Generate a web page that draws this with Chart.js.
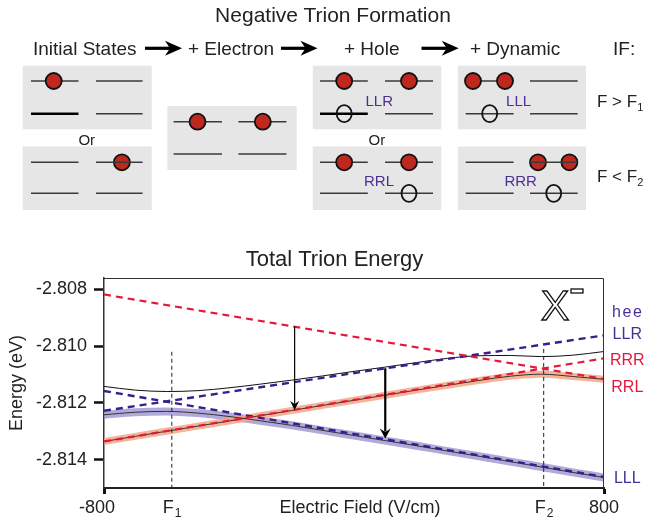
<!DOCTYPE html>
<html><head><meta charset="utf-8">
<script src="https://cdn.jsdelivr.net/npm/chart.js@4.4.1/dist/chart.umd.min.js"></script>
<style>
html,body{margin:0;padding:0;background:#fff;}
#wrap{position:relative;width:648px;height:522px;overflow:hidden;background:#fff;}
#c{position:absolute;left:0;top:0;}
#top{position:absolute;left:0;top:0;}
</style></head><body>
<div id="wrap">
<canvas id="c" width="648" height="522"></canvas>
<svg id="top" width="648" height="225" xmlns="http://www.w3.org/2000/svg" font-family="'Liberation Sans', Arial, sans-serif"></svg>
</div>
<script>
// ---------- data ----------
const fieldSamples = [-800,-700,-600,-500,-400,-300,-200,-100,0,100,200,300,400,500,600,700,800];
const adiabaticLow = [-2.81242,-2.81233,-2.81230,-2.81236,-2.81248,-2.81263,-2.81279,-2.81297,-2.81315,-2.81333,-2.81351,-2.81370,-2.81388,-2.81407,-2.81426,-2.81445,-2.81463];
const adiabaticUpper = [-2.81142,-2.81155,-2.81160,-2.81157,-2.81147,-2.81134,-2.81120,-2.81105,-2.81089,-2.81074,-2.81058,-2.81043,-2.81034,-2.81033,-2.81037,-2.81032,-2.81019];
const adiabaticMid = [-2.81336,-2.81318,-2.81300,-2.81282,-2.81264,-2.81245,-2.81227,-2.81209,-2.81191,-2.81173,-2.81155,-2.81138,-2.81121,-2.81106,-2.81099,-2.81107,-2.81117];
const diabaticField = [-800, 800];
const energyLLR = [-2.81228, -2.80962];
const energyLLL = [-2.81158, -2.81461];
const energyRRR = [-2.81336, -2.81043];
const energyRRL = [-2.80818, -2.81116];
const fieldF1 = -583, fieldF2 = 607;
const markerTopF1 = -2.8102, markerTopF2 = -2.8101;
const arrowField = [-190, 100];
const arrowFrom = [-2.80931, -2.81078];
const arrowTo = [-2.81225, -2.81326];
const yTicks = [-2.814, -2.812, -2.810, -2.808];
const xTicks = [-800, 800];
const rightLabels = ['hee','LLR','RRR','RRL','LLL'];

// ---------- schematic (top) ----------
const NS='http://www.w3.org/2000/svg';
const svg=document.getElementById('top');
function el(tag, attrs, text){ const e=document.createElementNS(NS,tag); for(const k in attrs) e.setAttribute(k, attrs[k]); if(text!=null) e.textContent=text; svg.appendChild(e); return e;}
function box(x,y,w,h){ el('rect',{x:x,y:y,width:w,height:h,fill:'#e6e6e6'}); }
function lvl(x1,x2,y,thick){ el('line',{x1:x1,x2:x2,y1:y,y2:y,stroke: thick?'#000':'#3a3a3a','stroke-width': thick?2.6:1.5}); }
function dot(cx,cy){ el('circle',{cx:cx,cy:cy,r:8,fill:'#bf281e',stroke:'#111','stroke-width':1.8}); }
function hole(cx,cy){ el('ellipse',{cx:cx,cy:cy,rx:7.5,ry:8.5,fill:'none',stroke:'#111','stroke-width':1.8}); }
function arrow(x0,x1,yc){ el('rect',{x:x0,y:yc-1.6,width:x1-x0-10,height:3.2,fill:'#000'}); el('polygon',{points:`${x1},${yc} ${x1-17},${yc-7.5} ${x1-12},${yc} ${x1-17},${yc+7.5}`,fill:'#000'}); }
function txt(x,y,s,size,anchor,fill){ return el('text',{x:x,y:y,'font-size':size,'text-anchor':anchor||'start',fill:fill||'#222'},s); }

txt(333,22,'Negative Trion Formation',21,'middle');
txt(33,55,'Initial States',19); arrow(145,182,48.3);
txt(188,55,'+ Electron',19); arrow(281,317.5,48.3);
txt(344,55,'+ Hole',19); arrow(421.5,458.7,48.3);
txt(470,55,'+ Dynamic',19);
txt(613,55,'IF:',19);

const yT1=81, yB1=113.7, yT2=162.3, yB2=193.3;
// initial states
box(22.7,65.7,129,63.6); lvl(31,78.5,yT1); lvl(96,142.6,yT1); lvl(31,78.5,yB1,true); lvl(96,142.6,yB1); dot(53.7,yT1);
box(22.7,146.5,129,63.5); dot(121.9,yT2); lvl(31,78.5,yT2); lvl(96,142.6,yT2); lvl(31,78.5,yB2); lvl(96,142.6,yB2);
txt(86.8,145,'Or',15,'middle');
// + electron
box(167.4,106,129.3,64); lvl(173.6,222,121.7); lvl(238.4,286.4,121.7); dot(197.5,121.7); dot(262.8,121.7); lvl(173.6,222,154); lvl(238.4,286.4,154);
// + hole
box(312.8,65.7,128.5,63.6); lvl(320,367.8,yT1); lvl(385,433,yT1); dot(344.2,yT1); dot(409,yT1); lvl(320,367.8,yB1,true); lvl(385,433,yB1); hole(344.2,yB1);
txt(379.3,105.5,'LLR',15,'middle','#4b2f93');
box(312.8,146.5,128.5,63.5); lvl(320,367.8,yT2); lvl(385,433,yT2); dot(344.2,yT2); dot(409,yT2); lvl(320,367.8,yB2); lvl(385,433,yB2); hole(409,yB2);
txt(379,185.5,'RRL',15,'middle','#4b2f93');
txt(376.9,145,'Or',15,'middle');
// + dynamic
box(457.9,65.7,128.1,63.6); lvl(465.7,513.6,yT1); lvl(530,577.7,yT1); dot(473,yT1); dot(505,yT1); lvl(465.7,513.6,yB1); lvl(530,577.7,yB1); hole(489.7,yB1);
txt(518.6,105.5,'LLL',15,'middle','#4b2f93');
box(457.9,146.5,128.1,63.5); dot(538,yT2); dot(569.4,yT2); lvl(465.7,513.6,yT2); lvl(530,577.7,yT2); lvl(465.7,513.6,yB2); lvl(530,577.7,yB2); hole(553.7,yB2);
txt(520.7,185.5,'RRR',15,'middle','#4b2f93');
// conditions
(function(){ const t=txt(597,107,'F > F',17); const s=document.createElementNS(NS,'tspan'); s.setAttribute('font-size','11'); s.setAttribute('dy','4'); s.textContent='1'; t.appendChild(s);
 const t2=txt(597,182,'F < F',17); const s2=document.createElementNS(NS,'tspan'); s2.setAttribute('font-size','11'); s2.setAttribute('dy','4'); s2.textContent='2'; t2.appendChild(s2); })();

// ---------- chart ----------
const FONT='"Liberation Sans", Arial, sans-serif';
Chart.defaults.font.family = FONT;
Chart.defaults.color = '#222';
const pts = (xs, ys) => xs.map((x,i)=>({x:x, y:ys[i]}));
const RED='#e5183b', BLUE='#3b1e8c';
const line = (data, color, width, extra) => Object.assign({data:data, borderColor:color, borderWidth:width, pointRadius:0, fill:false, tension:0}, extra||{});

const decor = {
  id:'decor',
  afterDraw(chart){
    const {ctx, chartArea:a, scales:{x, y}} = chart;
    ctx.save();
    // frame top/right
    ctx.strokeStyle='#333'; ctx.lineWidth=1;
    ctx.beginPath(); ctx.moveTo(a.left, a.top+0.5); ctx.lineTo(a.right-0.5, a.top+0.5); ctx.lineTo(a.right-0.5, a.bottom); ctx.stroke();
    // arrows
    const aw=[1.2, 2.2], hw=[4.5,5.5], hl=[9,10];
    arrowField.forEach((f,i)=>{
      const px=x.getPixelForValue(f), y0=y.getPixelForValue(arrowFrom[i]), y1=y.getPixelForValue(arrowTo[i]);
      ctx.strokeStyle='#000'; ctx.fillStyle='#000'; ctx.lineWidth=aw[i];
      ctx.beginPath(); ctx.moveTo(px,y0); ctx.lineTo(px,y1-hl[i]*0.7); ctx.stroke();
      ctx.beginPath(); ctx.moveTo(px,y1); ctx.lineTo(px-hw[i],y1-hl[i]); ctx.lineTo(px,y1-hl[i]*0.65); ctx.lineTo(px+hw[i],y1-hl[i]); ctx.closePath(); ctx.fill();
    });
    // titles
    ctx.fillStyle='#222'; ctx.textAlign='center'; ctx.textBaseline='alphabetic';
    ctx.font='22px '+FONT; ctx.fillText('Total Trion Energy', 334.5, 266);
    ctx.font='18px '+FONT; ctx.fillText('Electric Field (V/cm)', 360, 513);
    ctx.save(); ctx.translate(17.5, 383); ctx.rotate(-Math.PI/2); ctx.textBaseline='middle'; ctx.fillText('Energy (eV)',0,0); ctx.restore();
    // x tick labels (digits centred on the tick, minus hanging left)
    ctx.font='18px '+FONT; ctx.textAlign='center';
    xTicks.forEach(v=>{ const px=x.getPixelForValue(v); ctx.fillText(String(v), v<0 ? px-7 : px, 513); });
    // F labels
    [[fieldF1,'1'],[fieldF2,'2']].forEach(([f,s])=>{
      const px=x.getPixelForValue(f);
      ctx.font='18px '+FONT; ctx.textAlign='right'; ctx.fillText('F', px+2, 513);
      ctx.font='12px '+FONT; ctx.textAlign='left'; ctx.fillText(s, px+3, 517);
    });
    // X^- symbol
    ctx.font='43px '+FONT; ctx.textAlign='left'; ctx.lineWidth=1.3; ctx.strokeStyle='#111'; ctx.fillStyle='#fff';
    ctx.fillText('X', a.right-63.3, a.top+42); ctx.strokeText('X', a.right-63.3, a.top+42);
    ctx.strokeRect(a.right-33, a.top+11, 12, 4);
    // right labels
    const ly=[312.7,335,360.7,387.3,478.3], lc=['#48309a','#48309a',RED,RED,'#48309a'];
    ctx.font='16px '+FONT; ctx.textBaseline='middle';
    rightLabels.forEach((s,i)=>{
      ctx.fillStyle=lc[i]; ctx.textAlign='center';
      if(s==='hee'){ [...s].forEach((ch,j)=>ctx.fillText(ch, 616.5+j*10.5, ly[i])); }
      else { ctx.fillText(s, 627.3, ly[i]); }
    });
    ctx.restore();
  }
};

new Chart(document.getElementById('c'), {
  type:'line',
  data:{ datasets:[
    line(pts(diabaticField, energyRRL), RED, 2.2, {borderDash:[7,5], order:1}),
    line(pts(diabaticField, energyRRR), RED, 2.2, {borderDash:[7,5], order:1}),
    line(pts(diabaticField, energyLLR), BLUE, 2.4, {borderDash:[7,5], order:1}),
    line(pts(diabaticField, energyLLL), BLUE, 2.4, {borderDash:[7,5], order:1}),
    line(pts([fieldF1,fieldF1],[markerTopF1,-2.815]), '#222', 1, {borderDash:[4,3], order:0}),
    line(pts([fieldF2,fieldF2],[markerTopF2,-2.815]), '#222', 1, {borderDash:[4,3], order:0}),
    line(pts(fieldSamples, adiabaticUpper), '#111', 1, {cubicInterpolationMode:'monotone', order:3}),
    line(pts(fieldSamples, adiabaticLow), '#333', 1, {cubicInterpolationMode:'monotone', order:3}),
    line(pts(fieldSamples, adiabaticMid), '#333', 1, {cubicInterpolationMode:'monotone', order:3}),
    line(pts(fieldSamples, adiabaticMid), 'rgba(243,166,134,0.85)', 7, {cubicInterpolationMode:'monotone', order:5}),
    line(pts(fieldSamples, adiabaticLow), 'rgba(150,140,205,0.75)', 8, {cubicInterpolationMode:'monotone', order:6})
  ]},
  options:{
    responsive:false, animation:false, events:[],
    layout:{padding:{left:0,right:44,top:278,bottom:0}},
    plugins:{legend:{display:false}, title:{display:false}, tooltip:{enabled:false}},
    scales:{
      x:{type:'linear', min:-800, max:800,
        afterBuildTicks:s=>{ s.ticks = xTicks.map(v=>({value:v})); },
        afterFit:s=>{ s.height=34; },
        ticks:{autoSkip:false, maxRotation:0, padding:2, font:{size:18}, color:'#222', callback:()=>''},
        grid:{drawOnChartArea:false, drawTicks:true, tickLength:6, tickWidth:3, tickColor:'#111'},
        border:{display:true, color:'#222', width:2}
      },
      y:{type:'linear', min:-2.815, max:-2.8076,
        afterBuildTicks:s=>{ s.ticks = yTicks.map(v=>({value:v})); },
        afterFit:s=>{ s.width=104; },
        ticks:{padding:7, font:{size:18}, color:'#222', callback:v=>Number(v).toFixed(3)},
        grid:{drawOnChartArea:false, drawTicks:true, tickLength:10, tickWidth:2.5, tickColor:'#111'},
        border:{display:true, color:'#333', width:1.5}
      }
    }
  },
  plugins:[decor]
});
</script>
</body></html>
